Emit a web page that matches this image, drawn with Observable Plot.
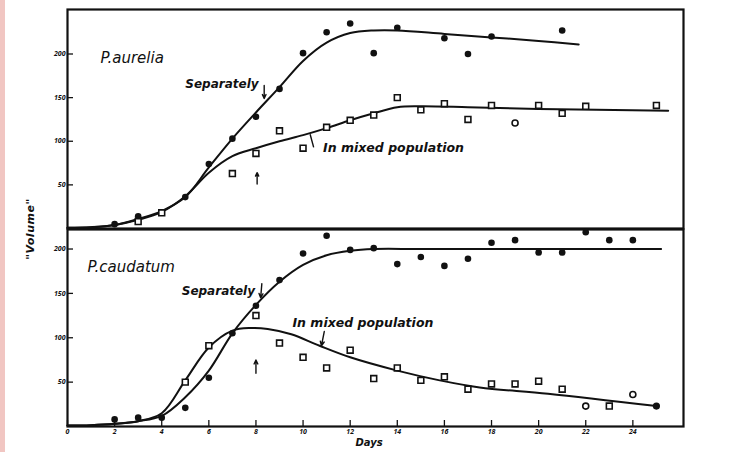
<!DOCTYPE html>
<html>
<head>
<meta charset="utf-8">
<script src="https://cdn.jsdelivr.net/npm/d3@7"></script>
<script src="https://cdn.jsdelivr.net/npm/@observablehq/plot@0.6"></script>
<style>
  html, body { margin: 0; padding: 0; background: #fff; }
  body { width: 731px; height: 452px; overflow: hidden; position: relative; font-family: "DejaVu Sans", sans-serif; }
  #strip { position: absolute; left: 0; top: 0; width: 5px; height: 452px; background: #f1c6c2; }
  #chart { position: absolute; left: 0; top: 0; }
  #chart svg { display: block; overflow: visible; }
  #ylab { position: absolute; left: 30px; top: 229px; transform: translate(-50%, -50%) rotate(-90deg);
          font-style: italic; font-weight: bold; font-size: 11px; white-space: nowrap; color: #111; letter-spacing: 0.5px; }
</style>
</head>
<body>
<div id="strip"></div>
<div id="chart"></div>
<div id="ylab">"Volume"</div>
<script>
// ---- Tick labels ----
const xTickDays = [0, 2, 4, 6, 8, 10, 12, 14, 16, 18, 20, 22, 24];
const yTickVols = [50, 100, 150, 200];

// ---- P. aurelia (top panel) ----
const aureliaSepDay = [2, 3, 5, 6, 7, 8, 9, 10, 11, 12, 13, 14, 16, 17, 18, 21];
const aureliaSepVol = [5, 14, 36, 74, 103, 128, 160, 201, 225, 235, 201, 230, 218, 200, 220, 227];
const aureliaMixDay = [3, 4, 7, 8, 9, 10, 11, 12, 13, 14, 15, 16, 17, 18, 19, 20, 21, 22, 25];
const aureliaMixVol = [8, 18, 63, 86, 112, 92, 116, 124, 130, 150, 136, 143, 125, 141, 121, 141, 132, 140, 141];
const aureliaMixMark = ["square","square","square","square","square","square","square","square","square","square",
                        "square","square","square","square","circle","square","square","square","square"];
const aureliaSepCurveDay = [0, 1, 2, 3, 4, 5, 6, 7, 8, 9, 10, 11, 12, 13, 14, 16, 18, 20, 21.7];
const aureliaSepCurveVol = [1, 1.5, 4, 11, 20, 36, 70, 103, 133, 162, 192, 213, 224, 227, 227, 223, 219, 215, 211];
const aureliaMixCurveDay = [0, 1, 2, 3, 4, 5, 6, 7, 8, 9, 10, 11, 12, 13, 14, 15, 17, 20, 25.5];
const aureliaMixCurveVol = [1, 1.5, 4, 10, 19, 37, 64, 83, 92, 100, 107, 115, 124, 132, 139, 140, 139, 137, 135];

// ---- P. caudatum (bottom panel) ----
const caudatumSepDay = [2, 3, 4, 5, 6, 7, 8, 9, 10, 11, 12, 13, 14, 15, 16, 17, 18, 19, 20, 21, 22, 23, 24];
const caudatumSepVol = [8, 10, 10, 21, 55, 105, 136, 165, 195, 215, 199, 201, 183, 191, 181, 189, 207, 210, 196, 196, 219, 210, 210];
const caudatumMixDay = [5, 6, 8, 9, 10, 11, 12, 13, 14, 15, 16, 17, 18, 19, 20, 21, 22, 23, 24, 25];
const caudatumMixVol = [50, 91, 125, 94, 78, 66, 86, 54, 66, 52, 56, 42, 48, 48, 51, 42, 23, 23, 36, 23];
const caudatumMixMark = ["square","square","square","square","square","square","square","square","square","square",
                         "square","square","square","square","square","square","circle","square","circle","filled"];
const caudatumSepCurveDay = [0, 1, 2, 3, 4, 5, 6, 7, 8, 9, 10, 11, 12, 13, 15, 20, 25.2];
const caudatumSepCurveVol = [1, 1.5, 3, 6, 12, 33, 63, 105, 137, 163, 182, 193, 198, 200, 200, 200, 200];
const caudatumMixCurveDay = [0, 1, 2, 3, 4, 5, 6, 7, 7.8, 8.5, 9.5, 10.7, 12, 14, 15.8, 17.5, 20.4, 25];
const caudatumMixCurveVol = [1, 1.5, 3, 6, 15, 52, 89, 108, 111, 110, 104, 91, 78, 63, 52, 44, 37, 23];

// ---- Annotations ----
const aureliaLabelText = ["P.aurelia", "Separately", "In mixed population"];
const aureliaLabelDay  = [1.4, 5.0, 10.85];
const aureliaLabelVol  = [195, 166, 92];
const aureliaLabelSize = [15, 12, 12.5];
const aureliaLabelWeight = ["normal", "bold", "bold"];
const caudatumLabelText = ["P.caudatum", "Separately", "In mixed population"];
const caudatumLabelDay  = [0.85, 4.85, 9.55];
const caudatumLabelVol  = [179, 153, 117];
const caudatumLabelSize = [15, 12, 12.5];
const caudatumLabelWeight = ["normal", "bold", "bold"];

const aureliaArrows  = [{x1: 8.35, y1: 164, x2: 8.35, y2: 149}, {x1: 8.05, y1: 51, x2: 8.05, y2: 64}];
const aureliaLeader  = [{x1: 10.45, y1: 93, x2: 10.3, y2: 108}];
const caudatumArrows = [{x1: 8.25, y1: 161, x2: 8.2, y2: 145}, {x1: 10.9, y1: 107, x2: 10.78, y2: 91}, {x1: 8.0, y1: 60, x2: 8.0, y2: 75}];

const ink = "#111";
const xDomain = [0, 26.15];
const zip = (a, b, c) => a.map((d, i) => ({x: d, y: b[i], m: c ? c[i] : null}));
const labelFont = {fontStyle: "italic", fill: ink, fontFamily: "DejaVu Sans"};

function panel({height, marginTop, marginBottom, yDomain, sep, mix, sepCurve, mixCurve, labels, arrows, leaders, showX}) {
  const marks = [
    Plot.frame({stroke: ink, strokeWidth: 2.2}),
    Plot.axisY({ticks: yTickVols, tickSize: -6, tickPadding: 8, fontSize: 7, fontStyle: "italic", fontWeight: "bold", stroke: ink, strokeWidth: 1.3}),
    Plot.line(sepCurve, {x: "x", y: "y", curve: "catmull-rom", stroke: ink, strokeWidth: 2}),
    Plot.line(mixCurve, {x: "x", y: "y", curve: "catmull-rom", stroke: ink, strokeWidth: 2}),
    Plot.dot(sep, {x: "x", y: "y", r: 3.3, fill: ink, stroke: "none"}),
    Plot.dot(mix.filter(d => d.m === "square"), {x: "x", y: "y", symbol: "square", r: 3.3, fill: "white", stroke: ink, strokeWidth: 1.6}),
    Plot.dot(mix.filter(d => d.m === "circle"), {x: "x", y: "y", r: 3, fill: "white", stroke: ink, strokeWidth: 1.6}),
    Plot.dot(mix.filter(d => d.m === "filled"), {x: "x", y: "y", r: 3.6, fill: ink, stroke: "none"})
  ];
  for (const w of ["normal", "bold"]) {
    marks.push(Plot.text(labels.filter(d => d.w === w), {x: "x", y: "y", text: "t", fontSize: d => d.s, textAnchor: "start", fontWeight: w, ...labelFont}));
  }
  marks.push(
    Plot.arrow(arrows, {x1: "x1", y1: "y1", x2: "x2", y2: "y2", stroke: ink, strokeWidth: 1.4, headLength: 5, headAngle: 50}),
    Plot.link(leaders, {x1: "x1", y1: "y1", x2: "x2", y2: "y2", stroke: ink, strokeWidth: 1.4})
  );
  if (showX) {
    marks.push(Plot.axisX({ticks: xTickDays, tickSize: -6, tickPadding: 9, fontSize: 7, fontStyle: "italic", fontWeight: "bold", stroke: ink, fill: ink, strokeWidth: 1.3}));
    marks.push(Plot.text(["Days"], {x: 12.8, frameAnchor: "bottom", dy: 19, text: d => d, fontSize: 10, fontWeight: "bold", ...labelFont}));
  }
  return Plot.plot({
    width: 731, height, marginLeft: 67, marginRight: 48, marginTop, marginBottom,
    style: {background: "transparent", color: ink, overflow: "visible"},
    x: {domain: xDomain, axis: showX ? undefined : null},
    y: {domain: yDomain},
    marks
  });
}

const mkLabels = (t, d, v, s, w) => t.map((tt, i) => ({t: tt, x: d[i], y: v[i], s: s[i], w: w[i]}));

const topPanel = panel({
  height: 228, marginTop: 9, marginBottom: 0, yDomain: [0, 251],
  sep: zip(aureliaSepDay, aureliaSepVol),
  mix: zip(aureliaMixDay, aureliaMixVol, aureliaMixMark),
  sepCurve: zip(aureliaSepCurveDay, aureliaSepCurveVol),
  mixCurve: zip(aureliaMixCurveDay, aureliaMixCurveVol),
  labels: mkLabels(aureliaLabelText, aureliaLabelDay, aureliaLabelVol, aureliaLabelSize, aureliaLabelWeight),
  arrows: aureliaArrows, leaders: aureliaLeader, showX: false
});
const bottomPanel = panel({
  height: 224, marginTop: 1, marginBottom: 26, yDomain: [0, 222],
  sep: zip(caudatumSepDay, caudatumSepVol),
  mix: zip(caudatumMixDay, caudatumMixVol, caudatumMixMark),
  sepCurve: zip(caudatumSepCurveDay, caudatumSepCurveVol),
  mixCurve: zip(caudatumMixCurveDay, caudatumMixCurveVol),
  labels: mkLabels(caudatumLabelText, caudatumLabelDay, caudatumLabelVol, caudatumLabelSize, caudatumLabelWeight),
  arrows: caudatumArrows, leaders: [], showX: true
});
document.getElementById("chart").append(topPanel, bottomPanel);
</script>
</body>
</html>
